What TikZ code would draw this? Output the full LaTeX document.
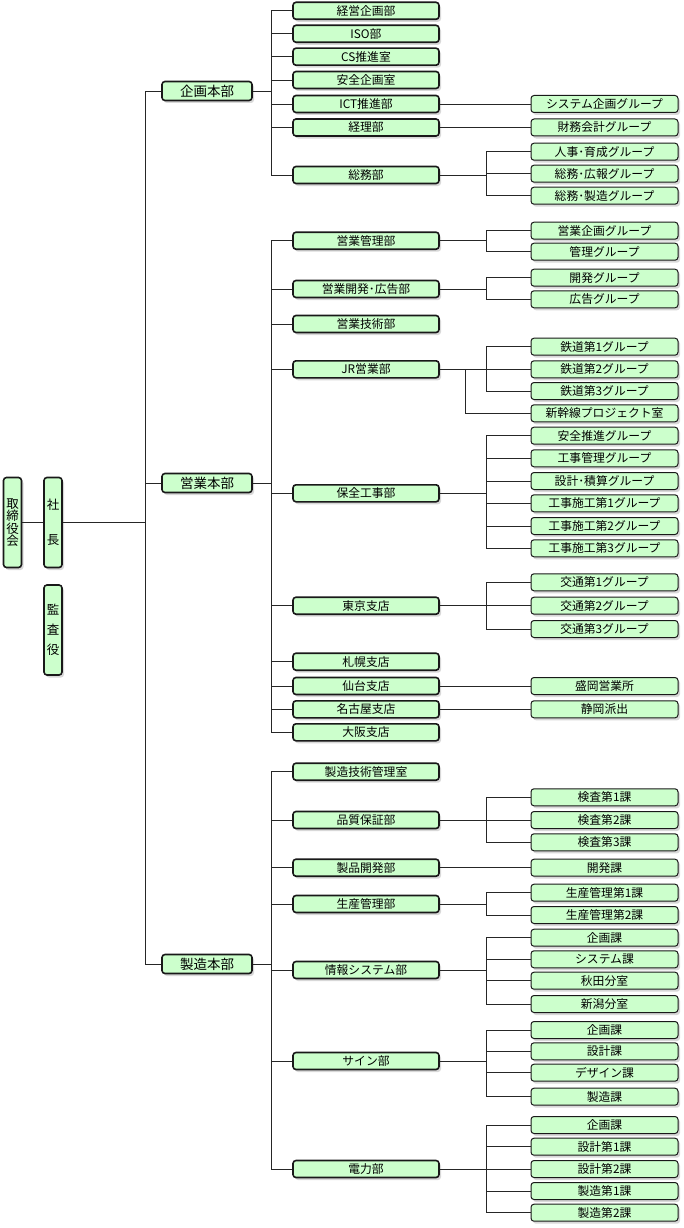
\documentclass[tikz,border=0pt]{standalone}
\usepackage{fontspec}
\setmainfont{Noto Sans CJK JP}
\usepackage{xcolor}
\usetikzlibrary{shadows}
\definecolor{boxgreen}{RGB}{204,255,204}
\tikzset{
  box/.style={draw=black!90, fill=boxgreen, rounded corners=3pt, inner sep=0pt,
    drop shadow={shadow xshift=2pt, shadow yshift=-2.5pt, fill=black!30}},
  hq/.style={box, line width=1.6pt, minimum width=90pt, minimum height=19pt, font=\fontsize{13.5}{13.5}\selectfont},
  dept/.style={box, line width=1.6pt, minimum width=146pt, minimum height=17pt, font=\fontsize{11.8}{11.8}\selectfont},
  grp/.style={box, line width=1pt, minimum width=147pt, minimum height=17pt, font=\fontsize{11.8}{11.8}\selectfont},
  exec/.style={box, line width=1.6pt, minimum width=18pt, minimum height=90pt, align=center, font=\fontsize{12.5}{12.5}\selectfont},
  link/.style={black!85, line width=0.8pt}
}
\begin{document}
\begin{tikzpicture}[x=1pt,y=-1pt]
\useasboundingbox (0,0) rectangle (684,1228);
\coordinate (jT) at (145,0);
\coordinate (jB) at (271,0);
\coordinate (jC) at (465.5,0);
\coordinate (jA) at (486,0);

% top
\node[exec] (board) at (12.5,522.5) {取\\締\\役\\会};
\node[exec] (pres) at (53,522.5) {社\\[22pt]長};
\node[exec] (audit) at (53,630) {監\\[7.5pt]査\\[7.5pt]役};

% headquarters
\node[hq] (kikaku) at (207,91) {企画本部};
\node[hq] (eigyo) at (207,483) {営業本部};
\node[hq] (seizo) at (207,964) {製造本部};

% kikaku
\node[dept] (keiei) at (366,10.8) {経営企画部};
\node[dept] (iso) at (366,33.8) {ISO部};
\node[dept] (cs) at (366,56.7) {CS推進室};
\node[dept] (anzen) at (366,80) {安全企画室};
\node[dept] (ict) at (366,104) {ICT推進部};
\node[dept] (keiri) at (366,127.5) {経理部};
\node[dept] (somu) at (366,175) {総務部};
\node[grp] (sysk) at (604.5,104) {システム企画グループ};
\node[grp] (zaimu) at (604.5,127.5) {財務会計グループ};
\node[grp] (jinji) at (604.5,151.7) {人事･育成グループ};
\node[grp] (koho) at (604.5,173.7) {総務･広報グループ};
\node[grp] (somus) at (604.5,195.7) {総務･製造グループ};

% eigyo
\node[dept] (eikan) at (366,240.7) {営業管理部};
\node[dept] (eikai) at (366,289) {営業開発･広告部};
\node[dept] (eigi) at (366,324) {営業技術部};
\node[dept] (jr) at (366,369.3) {JR営業部};
\node[dept] (hozen) at (366,493.3) {保全工事部};
\node[dept] (tokyo) at (366,605.7) {東京支店};
\node[dept] (sapporo) at (366,661.7) {札幌支店};
\node[dept] (sendai) at (366,686) {仙台支店};
\node[dept] (nagoya) at (366,709.3) {名古屋支店};
\node[dept] (osaka) at (366,732.3) {大阪支店};
\node[grp] (eikg) at (604.5,230.7) {営業企画グループ};
\node[grp] (kanri) at (604.5,251.7) {管理グループ};
\node[grp] (kaihatsu) at (604.5,277.7) {開発グループ};
\node[grp] (kokoku) at (604.5,299.3) {広告グループ};
\node[grp] (tetsu1) at (604.5,346.7) {鉄道第1グループ};
\node[grp] (tetsu2) at (604.5,369.3) {鉄道第2グループ};
\node[grp] (tetsu3) at (604.5,391) {鉄道第3グループ};
\node[grp] (shinkan) at (604.5,413.3) {新幹線プロジェクト室};
\node[grp] (anzs) at (604.5,435.7) {安全推進グループ};
\node[grp] (kojik) at (604.5,458.3) {工事管理グループ};
\node[grp] (sekisan) at (604.5,481) {設計･積算グループ};
\node[grp] (seko1) at (604.5,503.3) {工事施工第1グループ};
\node[grp] (seko2) at (604.5,526) {工事施工第2グループ};
\node[grp] (seko3) at (604.5,548.3) {工事施工第3グループ};
\node[grp] (kotsu1) at (604.5,582.3) {交通第1グループ};
\node[grp] (kotsu2) at (604.5,605.7) {交通第2グループ};
\node[grp] (kotsu3) at (604.5,629) {交通第3グループ};
\node[grp] (morioka) at (604.5,686) {盛岡営業所};
\node[grp] (shizuoka) at (604.5,709.3) {静岡派出};

% seizo
\node[dept] (gijutsu) at (366,771.7) {製造技術管理室};
\node[dept] (hinshitsu) at (366,820) {品質保証部};
\node[dept] (seihin) at (366,867.7) {製品開発部};
\node[dept] (seisan) at (366,904) {生産管理部};
\node[dept] (joho) at (366,970) {情報システム部};
\node[dept] (sign) at (366,1061) {サイン部};
\node[dept] (denryoku) at (366,1169) {電力部};
\node[grp] (kensa1) at (604.5,797.3) {検査第1課};
\node[grp] (kensa2) at (604.5,820) {検査第2課};
\node[grp] (kensa3) at (604.5,842.3) {検査第3課};
\node[grp] (kaihatsuka) at (604.5,867.7) {開発課};
\node[grp] (seisan1) at (604.5,892.7) {生産管理第1課};
\node[grp] (seisan2) at (604.5,915) {生産管理第2課};
\node[grp] (jkikaku) at (604.5,937.7) {企画課};
\node[grp] (jsys) at (604.5,959.3) {システム課};
\node[grp] (akita) at (604.5,980.7) {秋田分室};
\node[grp] (niigata) at (604.5,1004) {新潟分室};
\node[grp] (skikaku) at (604.5,1030) {企画課};
\node[grp] (ssekkei) at (604.5,1051.3) {設計課};
\node[grp] (design) at (604.5,1072.7) {デザイン課};
\node[grp] (sseizo) at (604.5,1096.7) {製造課};
\node[grp] (dkikaku) at (604.5,1125) {企画課};
\node[grp] (dsekkei1) at (604.5,1146.7) {設計第1課};
\node[grp] (dsekkei2) at (604.5,1169) {設計第2課};
\node[grp] (dseizo1) at (604.5,1191) {製造第1課};
\node[grp] (dseizo2) at (604.5,1212.7) {製造第2課};

% top links
\draw[link] (board.east) -- (board.east -| pres.west);
\draw[link] (pres.east) -- (pres.east -| jT);
\draw[link] (kikaku.west) -- (kikaku.west -| jT) -- (seizo.west -| jT) -- (seizo.west);
\draw[link] (eigyo.west) -- (eigyo.west -| jT);

% kikaku links
\draw[link] (kikaku.east) -- (kikaku.east -| jB);
\draw[link] (keiei.west) -- (keiei.west -| jB) -- (somu.west -| jB) -- (somu.west);
\draw[link] (iso.west) -- (iso.west -| jB);
\draw[link] (cs.west) -- (cs.west -| jB);
\draw[link] (anzen.west) -- (anzen.west -| jB);
\draw[link] (ict.west) -- (ict.west -| jB);
\draw[link] (keiri.west) -- (keiri.west -| jB);
\draw[link] (ict.east) -- (sysk.west);
\draw[link] (keiri.east) -- (zaimu.west);
\draw[link] (somu.east) -- (somu.east -| jA);
\draw[link] (jinji.west) -- (jinji.west -| jA) -- (somus.west -| jA) -- (somus.west);
\draw[link] (koho.west) -- (koho.west -| jA);

% eigyo links
\draw[link] (eigyo.east) -- (eigyo.east -| jB);
\draw[link] (eikan.west) -- (eikan.west -| jB) -- (osaka.west -| jB) -- (osaka.west);
\draw[link] (eikai.west) -- (eikai.west -| jB);
\draw[link] (eigi.west) -- (eigi.west -| jB);
\draw[link] (jr.west) -- (jr.west -| jB);
\draw[link] (hozen.west) -- (hozen.west -| jB);
\draw[link] (tokyo.west) -- (tokyo.west -| jB);
\draw[link] (sapporo.west) -- (sapporo.west -| jB);
\draw[link] (sendai.west) -- (sendai.west -| jB);
\draw[link] (nagoya.west) -- (nagoya.west -| jB);
\draw[link] (eikan.east) -- (eikan.east -| jA);
\draw[link] (eikg.west) -- (eikg.west -| jA) -- (kanri.west -| jA) -- (kanri.west);
\draw[link] (eikai.east) -- (eikai.east -| jA);
\draw[link] (kaihatsu.west) -- (kaihatsu.west -| jA) -- (kokoku.west -| jA) -- (kokoku.west);
\draw[link] (jr.east) -- (tetsu2.west);
\draw[link] (tetsu1.west) -- (tetsu1.west -| jA) -- (tetsu3.west -| jA) -- (tetsu3.west);
\draw[link] (jr.east -| jC) -- (shinkan.west -| jC) -- (shinkan.west);
\draw[link] (hozen.east) -- (hozen.east -| jA);
\draw[link] (anzs.west) -- (anzs.west -| jA) -- (seko3.west -| jA) -- (seko3.west);
\draw[link] (kojik.west) -- (kojik.west -| jA);
\draw[link] (sekisan.west) -- (sekisan.west -| jA);
\draw[link] (seko1.west) -- (seko1.west -| jA);
\draw[link] (seko2.west) -- (seko2.west -| jA);
\draw[link] (tokyo.east) -- (kotsu2.west);
\draw[link] (kotsu1.west) -- (kotsu1.west -| jA) -- (kotsu3.west -| jA) -- (kotsu3.west);
\draw[link] (sendai.east) -- (morioka.west);
\draw[link] (nagoya.east) -- (shizuoka.west);

% seizo links
\draw[link] (seizo.east) -- (seizo.east -| jB);
\draw[link] (gijutsu.west) -- (gijutsu.west -| jB) -- (denryoku.west -| jB) -- (denryoku.west);
\draw[link] (hinshitsu.west) -- (hinshitsu.west -| jB);
\draw[link] (seihin.west) -- (seihin.west -| jB);
\draw[link] (seisan.west) -- (seisan.west -| jB);
\draw[link] (joho.west) -- (joho.west -| jB);
\draw[link] (sign.west) -- (sign.west -| jB);
\draw[link] (hinshitsu.east) -- (kensa2.west);
\draw[link] (kensa1.west) -- (kensa1.west -| jA) -- (kensa3.west -| jA) -- (kensa3.west);
\draw[link] (seihin.east) -- (kaihatsuka.west);
\draw[link] (seisan.east) -- (seisan.east -| jA);
\draw[link] (seisan1.west) -- (seisan1.west -| jA) -- (seisan2.west -| jA) -- (seisan2.west);
\draw[link] (joho.east) -- (joho.east -| jA);
\draw[link] (jkikaku.west) -- (jkikaku.west -| jA) -- (niigata.west -| jA) -- (niigata.west);
\draw[link] (jsys.west) -- (jsys.west -| jA);
\draw[link] (akita.west) -- (akita.west -| jA);
\draw[link] (sign.east) -- (sign.east -| jA);
\draw[link] (skikaku.west) -- (skikaku.west -| jA) -- (sseizo.west -| jA) -- (sseizo.west);
\draw[link] (ssekkei.west) -- (ssekkei.west -| jA);
\draw[link] (design.west) -- (design.west -| jA);
\draw[link] (denryoku.east) -- (dsekkei2.west);
\draw[link] (dkikaku.west) -- (dkikaku.west -| jA) -- (dseizo2.west -| jA) -- (dseizo2.west);
\draw[link] (dsekkei1.west) -- (dsekkei1.west -| jA);
\draw[link] (dseizo1.west) -- (dseizo1.west -| jA);
\end{tikzpicture}
\end{document}
